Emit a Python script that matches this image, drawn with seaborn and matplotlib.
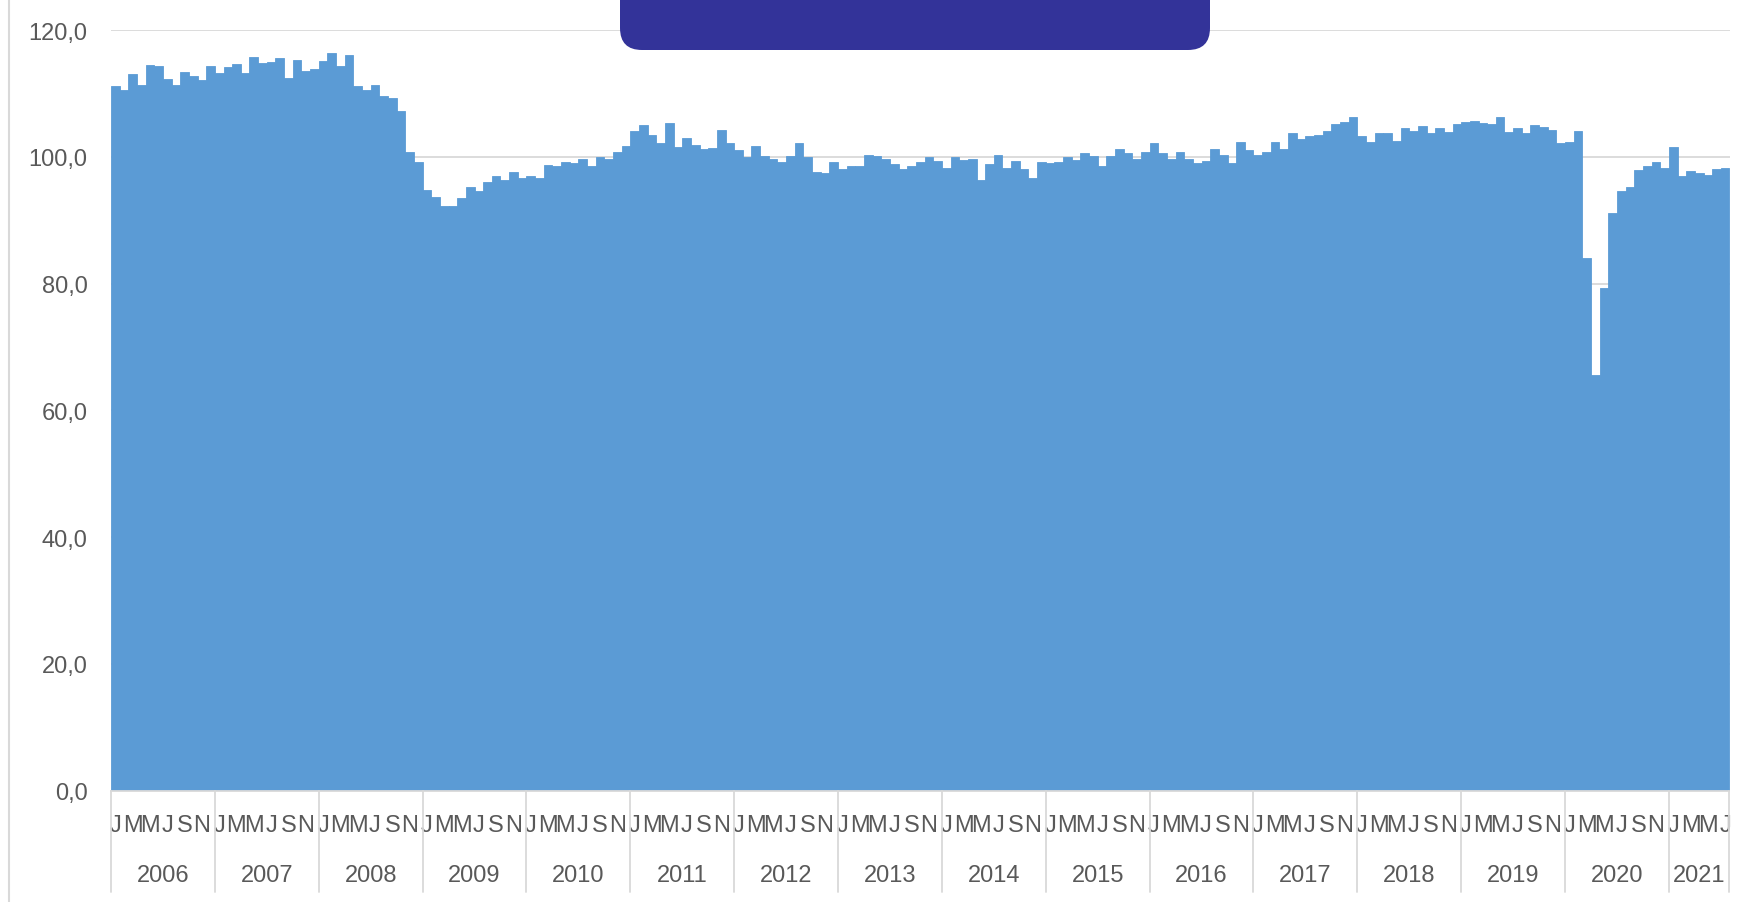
import numpy as np
import pandas as pd
import matplotlib
matplotlib.use("Agg")
import matplotlib.pyplot as plt
import seaborn as sns
from matplotlib.patches import FancyBboxPatch
from matplotlib.transforms import IdentityTransform, blended_transform_factory
from matplotlib.lines import Line2D

# ---------------- data (monthly index, Jan 2006 - Jul 2021) ----------------
start_year = 2006
v2006 = [111.1, 110.5, 113.0, 111.4, 114.5, 114.3, 112.3, 111.4, 113.4, 112.7, 112.1, 114.3]
v2007 = [113.2, 114.1, 114.7, 113.2, 115.8, 114.8, 115.0, 115.6, 112.5, 115.2, 113.6, 113.9]
v2008 = [115.1, 116.4, 114.3, 116.0, 111.1, 110.5, 111.4, 109.6, 109.2, 107.2, 100.8, 99.2]
v2009 = [94.8, 93.7, 92.2, 92.2, 93.5, 95.2, 94.6, 96.1, 97.0, 96.4, 97.6, 96.6]
v2010 = [96.9, 96.6, 98.7, 98.5, 99.2, 99.0, 99.7, 98.6, 99.9, 99.7, 100.8, 101.7]
v2011 = [104.1, 105.0, 103.4, 102.2, 105.4, 101.5, 103.0, 101.9, 101.2, 101.4, 104.3, 102.1]
v2012 = [101.0, 100.0, 101.7, 100.1, 99.7, 99.1, 100.1, 102.1, 99.9, 97.6, 97.4, 99.2]
v2013 = [98.0, 98.5, 98.5, 100.3, 100.1, 99.7, 98.8, 98.0, 98.5, 99.2, 100.0, 99.4]
v2014 = [98.2, 100.0, 99.5, 99.7, 96.4, 98.9, 100.3, 98.2, 99.3, 98.0, 96.7, 99.2]
v2015 = [99.0, 99.2, 99.9, 99.5, 100.6, 100.1, 98.6, 100.1, 101.2, 100.6, 99.7, 100.8]
v2016 = [102.1, 100.6, 99.7, 100.8, 99.7, 99.0, 99.3, 101.2, 100.3, 99.0, 102.3, 101.0]
v2017 = [100.3, 100.8, 102.3, 101.3, 103.7, 102.8, 103.2, 103.4, 104.1, 105.2, 105.5, 106.3]
v2018 = [103.2, 102.4, 103.8, 103.8, 102.5, 104.5, 104.1, 104.9, 103.7, 104.5, 103.9, 105.2]
v2019 = [105.5, 105.6, 105.4, 105.1, 106.3, 103.9, 104.5, 103.7, 105.0, 104.7, 104.3, 102.2]
v2020 = [102.4, 104.1, 84.0, 65.5, 79.3, 91.1, 94.6, 95.3, 97.9, 98.5, 99.2, 98.2]
v2021 = [101.6, 97.0, 97.7, 97.4, 97.1, 98.0, 98.3]

month_initials = ["J", "F", "M", "A", "M", "J", "J", "A", "S", "O", "N", "D"]
y_ticks = [0, 20, 40, 60, 80, 100, 120]

yearly = [v2006, v2007, v2008, v2009, v2010, v2011, v2012, v2013,
          v2014, v2015, v2016, v2017, v2018, v2019, v2020, v2021]
years = [start_year + i for i in range(len(yearly))]

values = [v for yv in yearly for v in yv]
n = len(values)
periods = [f"{start_year + i // 12}-{i % 12 + 1:02d}" for i in range(n)]
df = pd.DataFrame({"period": periods, "value": values})

# ---------------- style ----------------
sns.set_theme(style="white")
plt.rcParams["font.family"] = ["Liberation Sans", "DejaVu Sans"]

BAR = "#5B9BD5"
GRID = "#D9D9D9"
TXT = "#595959"

W, H = 1745, 903
fig = plt.figure(figsize=(W / 100, H / 100), dpi=100)
ax_left, ax_right, ax_bottom, ax_top = 111, 1729.5, 791.7, 31
ax = fig.add_axes([ax_left / W, (H - ax_bottom) / H,
                   (ax_right - ax_left) / W, (ax_bottom - ax_top) / H])

sns.barplot(data=df, x="period", y="value", color=BAR, saturation=1,
            width=1.0, linewidth=0.6, edgecolor=BAR, ax=ax)

ax.set_ylim(0, 120)
ax.set_xlim(-0.5, n - 0.5)
ax.set_xlabel("")
ax.set_ylabel("")

# y axis
ax.set_yticks(y_ticks)
ax.set_yticklabels([f"{t:.1f}".replace(".", ",") for t in y_ticks],
                   fontsize=17, color=TXT)
ax.tick_params(axis="y", length=0, pad=17)
ax.yaxis.grid(True, color=GRID, lw=1.3)
ax.xaxis.grid(False)
ax.set_axisbelow(True)
for s in ["top", "right", "left"]:
    ax.spines[s].set_visible(False)
ax.spines["bottom"].set_color(GRID)
ax.spines["bottom"].set_linewidth(1.3)

# month labels (every other month)
pos = list(range(0, n, 2))
ax.set_xticks(pos)
ax.set_xticklabels([month_initials[p % 12] for p in pos], fontsize=17, color=TXT,
                   family=["Liberation Sans Narrow", "Liberation Sans", "DejaVu Sans"])
for lbl in ax.get_xticklabels():
    lbl.set_verticalalignment("center")
ax.tick_params(axis="x", length=0, pad=25)

# year labels + separators
axes_h = ax_bottom - ax_top
trans = blended_transform_factory(ax.transData, ax.transAxes)
sep_bottom = -(893 - ax_bottom) / axes_h
year_y = -(876 - ax_bottom) / axes_h
for i, (yr, yv) in enumerate(zip(years, yearly)):
    x0 = 12 * i - 0.5
    x1 = x0 + len(yv)
    ax.text((x0 + x1) / 2, year_y, str(yr), transform=trans, ha="center",
            va="center", fontsize=17, color=TXT)
    ax.plot([x0, x0], [0, sep_bottom], transform=trans, color=GRID, lw=1.3,
            clip_on=False)
ax.plot([n - 0.5, n - 0.5], [0, sep_bottom], transform=trans, color=GRID,
        lw=1.3, clip_on=False)

# chart-area left border
fig.add_artist(Line2D([8.5, 8.5], [0, H], transform=IdentityTransform(),
                      color=GRID, lw=1.5))

# dark title banner (cut off at top)
banner = FancyBboxPatch((620, H - 51), 590, 120,
                        boxstyle="round,pad=0,rounding_size=22",
                        transform=IdentityTransform(), fc="#333399", ec="none")
fig.add_artist(banner)

fig.savefig("out.png", dpi=100)
